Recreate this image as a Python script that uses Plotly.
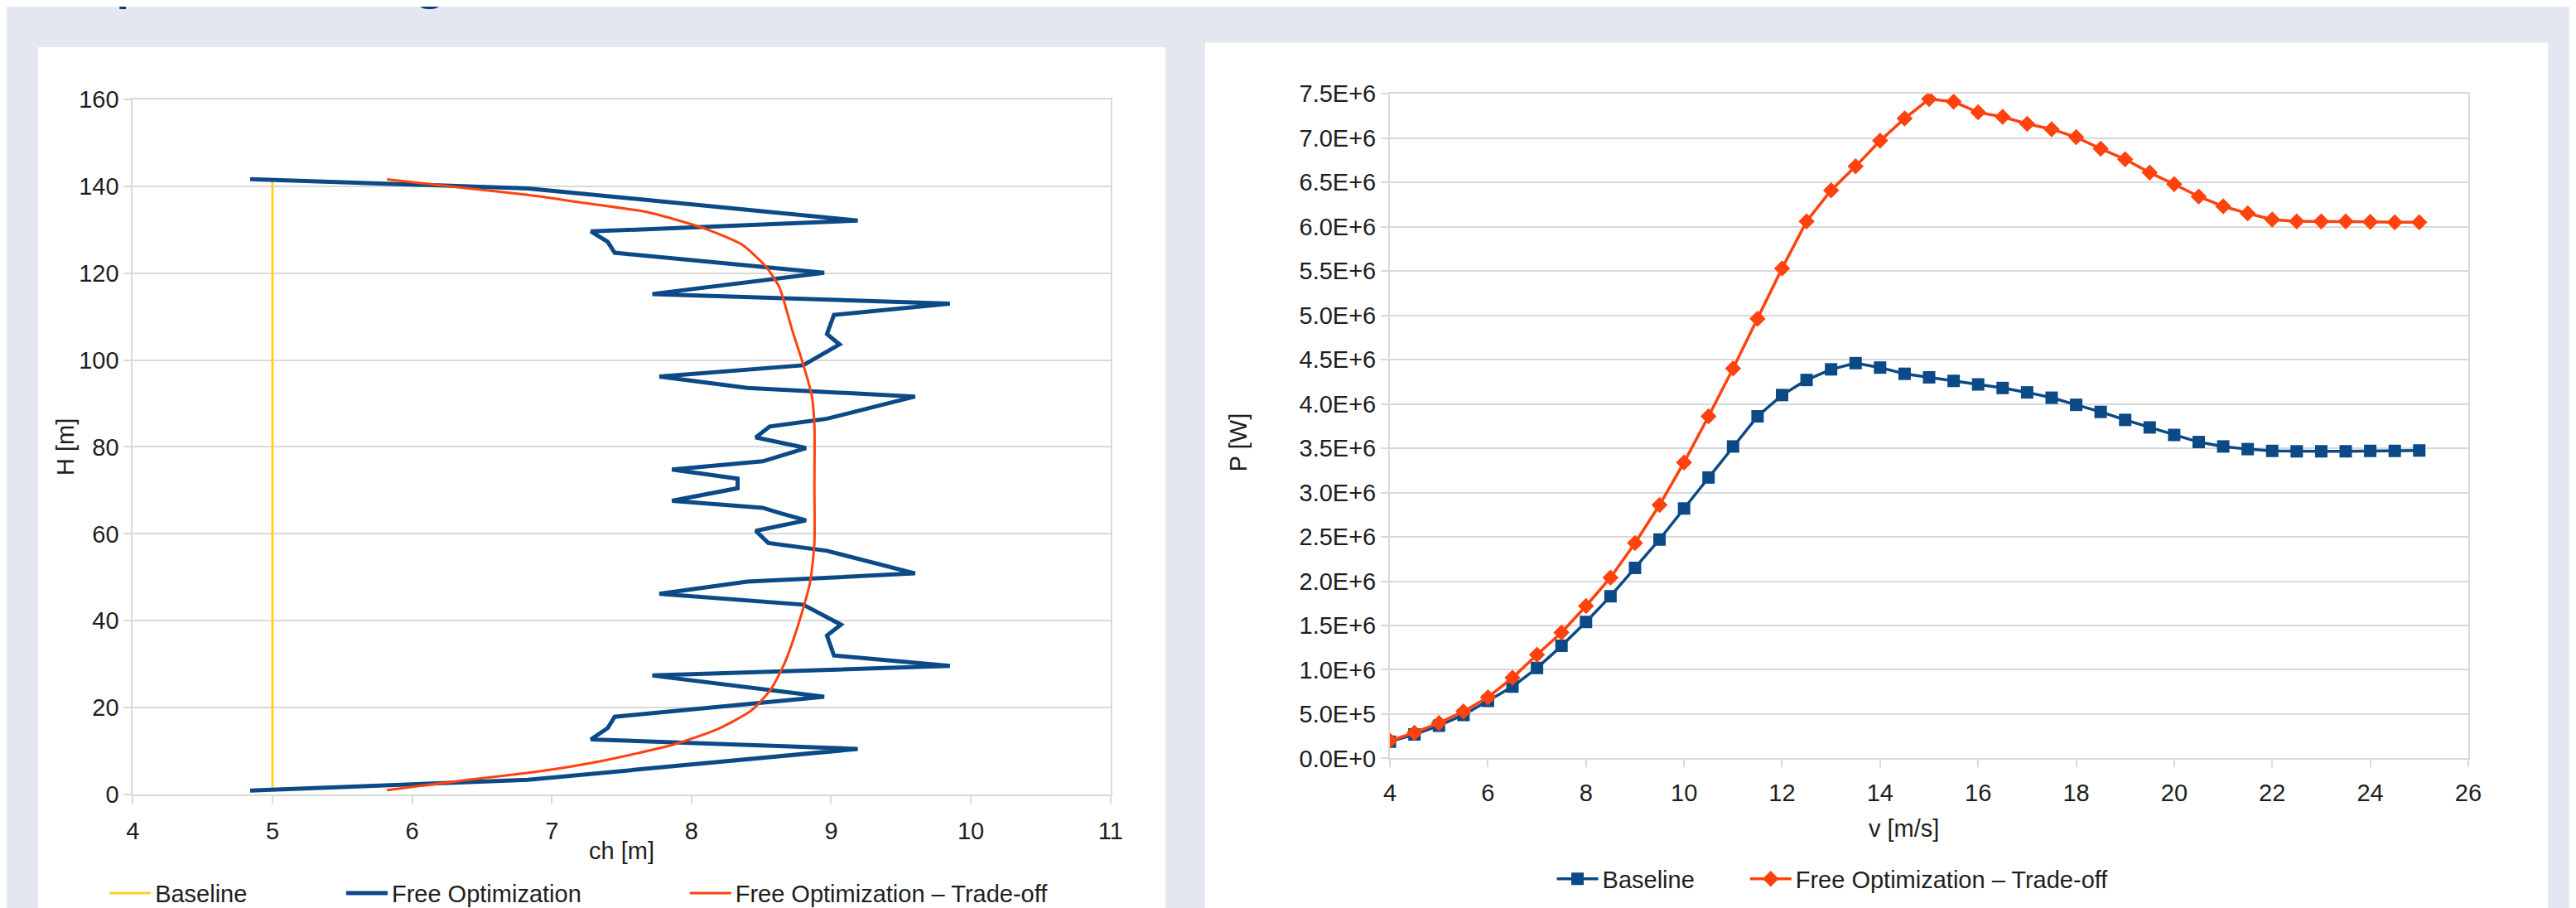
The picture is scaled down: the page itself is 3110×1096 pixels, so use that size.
import plotly.graph_objects as go

W, H = 3110, 1096

# ---------------- Left chart: chord distribution ----------------
baseline_ch = [5.0, 5.0]
baseline_h = [0.9, 141.7]

free_ch = [4.84, 6.83, 9.19, 7.28, 7.40, 7.45, 8.95, 7.72, 9.85, 9.02, 8.97, 9.07,
           8.80, 7.77, 8.40, 9.60, 8.97, 8.55, 8.46, 8.82, 8.63, 8.51, 7.86, 8.33,
           8.33, 7.86, 8.51, 8.63, 8.82, 8.46, 8.56, 8.97, 9.60, 8.40, 7.77, 8.80,
           9.06, 8.97, 9.02, 9.85, 7.72, 8.95, 7.45, 7.40, 7.28, 9.19, 6.83, 4.84]
free_h = [0.9, 3.4, 10.5, 12.7, 15.3, 17.9, 22.5, 27.4, 29.6, 32.0, 36.6, 39.1,
          43.7, 46.2, 49.0, 50.9, 56.1, 57.9, 60.7, 63.1, 64.8, 66.0, 67.6, 70.5,
          72.7, 74.8, 76.7, 77.9, 79.75, 82.2, 84.7, 86.5, 91.6, 93.6, 96.2, 98.8,
          103.6, 106.0, 110.4, 113.0, 115.2, 120.1, 124.7, 127.2, 129.6, 132.1, 139.5, 141.65]

trade_ch = [5.82, 6.38, 6.90, 7.35, 7.86, 8.19, 8.43, 8.57, 8.67, 8.77, 8.85, 8.88,
            8.88, 8.88, 8.86, 8.80, 8.72, 8.63, 8.53, 8.36, 8.09, 7.69, 7.18, 6.83,
            6.38, 5.82]
trade_h = [1.0, 3.3, 5.3, 7.7, 11.4, 15.1, 19.4, 24.3, 30.5, 39.7, 49.0, 58.0,
           71.0, 85.0, 92.0, 99.0, 107.0, 116.7, 121.6, 126.6, 130.3, 134.0, 136.4, 138.0,
           139.6, 141.6]

left_xticks = [4, 5, 6, 7, 8, 9, 10, 11]
left_yticks = [0, 20, 40, 60, 80, 100, 120, 140, 160]

# ---------------- Right chart: power curve ----------------
wind_speed = [4, 4.5, 5, 5.5, 6, 6.5, 7, 7.5, 8, 8.5, 9, 9.5, 10, 10.5, 11, 11.5,
              12, 12.5, 13, 13.5, 14, 14.5, 15, 15.5, 16, 16.5, 17, 17.5, 18, 18.5,
              19, 19.5, 20, 20.5, 21, 21.5, 22, 22.5, 23, 23.5, 24, 24.5, 25]
power_baseline_mw = [0.19, 0.27, 0.37, 0.49, 0.65, 0.81, 1.02, 1.27, 1.54, 1.83, 2.15,
                     2.47, 2.82, 3.17, 3.52, 3.86, 4.10, 4.27, 4.39, 4.46, 4.41, 4.34,
                     4.30, 4.26, 4.22, 4.18, 4.13, 4.07, 3.99, 3.91, 3.82, 3.735, 3.65,
                     3.57, 3.52, 3.49, 3.47, 3.465, 3.465, 3.465, 3.47, 3.47, 3.475]
power_tradeoff_mw = [0.20, 0.29, 0.40, 0.53, 0.69, 0.91, 1.17, 1.42, 1.72, 2.04, 2.43,
                     2.86, 3.34, 3.86, 4.40, 4.96, 5.53, 6.06, 6.41, 6.68, 6.97, 7.22,
                     7.44, 7.41, 7.29, 7.24, 7.16, 7.10, 7.01, 6.88, 6.76, 6.61, 6.48,
                     6.34, 6.23, 6.15, 6.08, 6.06, 6.06, 6.06, 6.055, 6.05, 6.05]
power_baseline = [p * 1e6 for p in power_baseline_mw]
power_tradeoff = [p * 1e6 for p in power_tradeoff_mw]

right_xticks = [4, 6, 8, 10, 12, 14, 16, 18, 20, 22, 24, 26]
right_yticks = [i * 0.5e6 for i in range(16)]
right_ytext = ["0.0E+0", "5.0E+5", "1.0E+6", "1.5E+6", "2.0E+6", "2.5E+6", "3.0E+6",
               "3.5E+6", "4.0E+6", "4.5E+6", "5.0E+6", "5.5E+6", "6.0E+6", "6.5E+6",
               "7.0E+6", "7.5E+6"]

# ---------------- Styling ----------------
YELLOW = "#ffd320"
BLUE = "#0b4a86"
ORANGE = "#ff420e"
BG = "#e3e7f0"
GRID = "#d9d9d9"
TXT = "#1e1e1e"
FONT = "Liberation Sans, Arial, sans-serif"
FS = 29


def px_x(x):
    return x / W


def px_y(y):
    return 1 - y / H


fig = go.Figure()

fig.add_trace(go.Scatter(x=baseline_ch, y=baseline_h, mode="lines", name="Baseline",
                         line=dict(color=YELLOW, width=3), xaxis="x", yaxis="y",
                         legend="legend"))
fig.add_trace(go.Scatter(x=free_ch, y=free_h, mode="lines", name="Free Optimization",
                         line=dict(color=BLUE, width=5), xaxis="x", yaxis="y",
                         legend="legend2"))
fig.add_trace(go.Scatter(x=trade_ch, y=trade_h, mode="lines",
                         name="Free Optimization – Trade-off",
                         line=dict(color=ORANGE, width=3, shape="spline", smoothing=0.6),
                         xaxis="x", yaxis="y", legend="legend3"))

fig.add_trace(go.Scatter(x=wind_speed, y=power_baseline, mode="lines+markers",
                         name="Baseline", line=dict(color=BLUE, width=3.5),
                         marker=dict(symbol="square", size=15, color=BLUE),
                         xaxis="x2", yaxis="y2", legend="legend4"))
fig.add_trace(go.Scatter(x=wind_speed, y=power_tradeoff, mode="lines+markers",
                         name="Free Optimization – Trade-off",
                         line=dict(color=ORANGE, width=3.5),
                         marker=dict(symbol="diamond", size=15, color=ORANGE),
                         xaxis="x2", yaxis="y2", legend="legend5"))

axis_common = dict(showline=True, linecolor=GRID, linewidth=2, mirror=True,
                   ticks="outside", ticklen=9, tickwidth=2, tickcolor=GRID,
                   zeroline=False, tickfont=dict(family=FONT, size=FS, color=TXT))

leg_common = dict(orientation="h", bgcolor="rgba(0,0,0,0)", borderwidth=0,
                  font=dict(family=FONT, size=FS, color=TXT), xanchor="left",
                  yanchor="middle", itemwidth=50, tracegroupgap=0)

fig.update_layout(
    width=W, height=H,
    paper_bgcolor=BG, plot_bgcolor="white",
    margin=dict(l=0, r=0, t=0, b=0),
    font=dict(family=FONT, size=FS, color=TXT),
    xaxis=dict(domain=[px_x(145.5), px_x(1335)], range=[4, 11], tickvals=left_xticks,
               showgrid=False, anchor="y", ticklabelstandoff=8, **axis_common),
    yaxis=dict(domain=[px_y(965), px_y(99)], range=[0, 160], tickvals=left_yticks,
               showgrid=True, gridcolor=GRID, gridwidth=2, anchor="x", **axis_common),
    xaxis2=dict(domain=[px_x(1675), px_x(2987)], range=[4, 26], tickvals=right_xticks,
                showgrid=False, anchor="y2", ticklabelstandoff=6, **axis_common),
    yaxis2=dict(domain=[px_y(920), px_y(92)], range=[0, 7.5e6], tickvals=right_yticks,
                ticktext=right_ytext, showgrid=True, gridcolor=GRID, gridwidth=2,
                anchor="x2", **axis_common),
    legend=dict(x=px_x(112), y=px_y(1088), **leg_common),
    legend2=dict(x=px_x(400), y=px_y(1088), **leg_common),
    legend3=dict(x=px_x(818), y=px_y(1088), **leg_common),
    legend4=dict(x=px_x(1873), y=px_y(1070), **leg_common),
    legend5=dict(x=px_x(2108), y=px_y(1070), **leg_common),
    showlegend=True,
)

# white panels
fig.add_shape(type="rect", xref="paper", yref="paper", x0=px_x(30), x1=px_x(1402),
              y0=-0.05, y1=px_y(34), fillcolor="white", line=dict(width=0), layer="below")
fig.add_shape(type="rect", xref="paper", yref="paper", x0=px_x(1450), x1=px_x(3084),
              y0=-0.05, y1=px_y(28), fillcolor="white", line=dict(width=0), layer="below")

# axis titles
title_font = dict(family=FONT, size=FS, color=TXT)
fig.add_annotation(text="H [m]", xref="paper", yref="paper", x=px_x(64), y=px_y(532),
                   xanchor="center", yanchor="middle", textangle=-90, showarrow=False,
                   font=title_font)
fig.add_annotation(text="ch [m]", xref="paper", yref="paper", x=px_x(740), y=px_y(1035),
                   xanchor="center", yanchor="middle", showarrow=False, font=title_font)
fig.add_annotation(text="P [W]", xref="paper", yref="paper", x=px_x(1490), y=px_y(527),
                   xanchor="center", yanchor="middle", textangle=-90, showarrow=False,
                   font=title_font)
fig.add_annotation(text="v [m/s]", xref="paper", yref="paper", x=px_x(2300), y=px_y(1007),
                   xanchor="center", yanchor="middle", showarrow=False, font=title_font)

# page heading (mostly cut off above the visible area, as in the reference)
fig.add_annotation(text="<b>Shape and Loading</b>", xref="paper", yref="paper",
                   x=px_x(28), y=px_y(-9.5), xanchor="left", yanchor="bottom",
                   showarrow=False, font=dict(family="Open Sans", size=52, color="#0b3a6f"))

fig.write_html("out.html")
